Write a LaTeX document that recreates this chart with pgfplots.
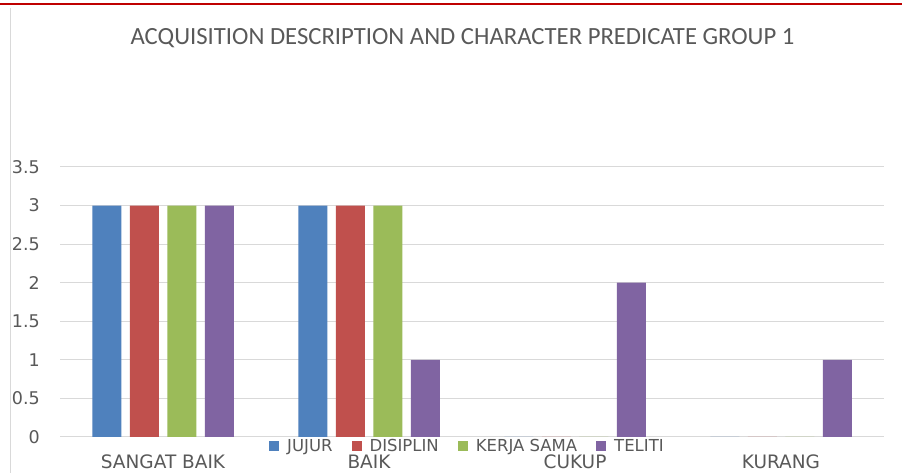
\documentclass[border=0pt]{standalone}
\usepackage{pgfplots}
\pgfplotsset{compat=1.18}
\usepackage{fontspec}
\setmainfont{DejaVu Sans}
\newfontfamily\titlefont{Carlito}
\definecolor{cJ}{HTML}{4F81BD}
\definecolor{cD}{HTML}{C0504D}
\definecolor{cK}{HTML}{9BBB59}
\definecolor{cT}{HTML}{8064A2}
\definecolor{txt}{HTML}{595959}
\definecolor{grd}{HTML}{D9D9D9}
\begin{document}
\begin{tikzpicture}[x=1pt,y=1pt]
\path[use as bounding box] (0,0) rectangle (902,473);
\fill[white] (0,0) rectangle (902,473);
\draw[red!75!black, line width=2pt] (0,469) -- (902,469);
\draw[grd, line width=1pt] (10.5,0) -- (10.5,465);
\node[text=txt, font=\titlefont\fontsize{24.7}{25}\selectfont] at (462.5,435) {ACQUISITION DESCRIPTION AND CHARACTER PREDICATE GROUP 1};
\begin{axis}[
  at={(60pt,36pt)}, anchor=south west,
  scale only axis, width=824pt, height=270pt,
  xmin=-0.5, xmax=3.5, ymin=0, ymax=3.5,
  ybar=8.5pt, bar width=29pt,
  xtick={0,1,2,3},
  xticklabels={SANGAT BAIK,BAIK,CUKUP,KURANG},
  ytick={0,0.5,1,1.5,2,2.5,3,3.5},
  yticklabels={0,0.5,1,1.5,2,2.5,3,3.5},
  axis line style={draw=none},
  major tick length=0pt,
  ymajorgrids, grid style={color=grd, line width=1pt},
  xticklabel style={anchor=north, inner sep=0pt, yshift=-17.5pt, text=txt, font=\fontsize{18.5}{18.5}\selectfont},
  yticklabel style={anchor=east, inner sep=0pt, xshift=-20pt, text=txt, font=\fontsize{17.5}{17.5}\selectfont},
  legend style={draw=none, fill=none, at={(0.4945,0)}, anchor=center, yshift=-9pt,
    font=\fontsize{16.5}{16.5}\selectfont, text=txt, inner sep=0pt,
    /tikz/every odd column/.append style={column sep=6pt},
    /tikz/every even column/.append style={column sep=17pt}},
  legend columns=-1,
  legend image code/.code={\fill[#1] (0pt,-5pt) rectangle (10pt,5pt);},
  every axis plot/.append style={draw=none},
]
\addplot[fill=cJ] coordinates {(0,3) (1,3) (2,0) (3,0)};
\addplot[fill=cD] coordinates {(0,3) (1,3) (2,0) (3,0)};
\addplot[fill=cK] coordinates {(0,3) (1,3) (2,0) (3,0)};
\addplot[fill=cT] coordinates {(0,3) (1,1) (2,2) (3,1)};
\legend{JUJUR,DISIPLIN,KERJA SAMA,TELITI}
\end{axis}
\end{tikzpicture}
\end{document}
